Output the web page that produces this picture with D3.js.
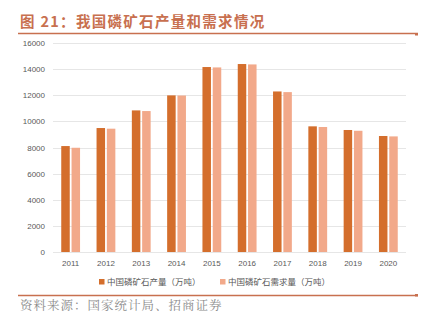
<!DOCTYPE html>
<html><head><meta charset="utf-8">
<script src="https://cdn.jsdelivr.net/npm/d3@7"></script>
<style>body{margin:0;background:#fff}svg{display:block}</style>
</head><body>
<script>
const years = ["2011","2012","2013","2014","2015","2016","2017","2018","2019","2020"];
const production = [8110, 9490, 10840, 11990, 14160, 14390, 12290, 9620, 9340, 8880];
const demand = [7980, 9440, 10790, 11980, 14130, 14360, 12240, 9570, 9280, 8850];
const seriesNames = ["中国磷矿石产量（万吨）", "中国磷矿石需求量（万吨）"];
const yTicks = [0,2000,4000,6000,8000,10000,12000,14000,16000];
const titleText = "图 21：我国磷矿石产量和需求情况";
const sourceText = "资料来源：国家统计局、招商证券";

const W=441,H=324;
const svg=d3.select("body").append("svg").attr("width",W).attr("height",H);
const cProd="#d46e2c", cDem="#f2a98a", accent="#c8704f";

svg.append("text").attr("x",20).attr("y",27).attr("fill",accent)
  .attr("font-family","'Noto Sans CJK SC'").attr("font-weight","bold").attr("font-size",14.5)
  .attr("letter-spacing",1.3)
  .text(titleText);
svg.append("line").attr("x1",18).attr("x2",418).attr("y1",33.5).attr("y2",33.5).attr("stroke",accent).attr("stroke-width",1.5);
svg.append("rect").attr("x",415).attr("y",33).attr("width",3).attr("height",2.5).attr("fill",accent);

const x=d3.scaleBand().domain(years).range([53,406]);
const y=d3.scaleLinear().domain([0,16000]).range([252,43]);

const g=svg.append("g");
g.selectAll(".grid").data(yTicks).enter().append("line")
  .attr("x1",53).attr("x2",406).attr("y1",d=>Math.round(y(d))+0.5).attr("y2",d=>Math.round(y(d))+0.5)
  .attr("stroke","#e6e6e6").attr("stroke-width",1);

const yAxis=d3.axisLeft(y).tickValues(yTicks).tickFormat(d3.format("d")).tickSize(0).tickPadding(8);
const ya=svg.append("g").attr("transform","translate(53,0)").call(yAxis);
ya.select(".domain").remove();
ya.selectAll("text").attr("fill","#595959").attr("font-family","'Liberation Sans',Arial").attr("font-size",8);

const bw=8.5, gap=1.8;
const step=x.bandwidth();
g.selectAll(".p").data(production).enter().append("rect")
  .attr("x",(d,i)=>x(years[i])+step/2-gap/2-bw).attr("width",bw)
  .attr("y",d=>y(d)).attr("height",d=>y(0)-y(d)).attr("fill",cProd);
g.selectAll(".d").data(demand).enter().append("rect")
  .attr("x",(d,i)=>x(years[i])+step/2+gap/2).attr("width",bw)
  .attr("y",d=>y(d)).attr("height",d=>y(0)-y(d)).attr("fill",cDem);

const xAxis=d3.axisBottom(x).tickSize(0).tickPadding(8);
const xa=svg.append("g").attr("transform","translate(0,252)").call(xAxis);
xa.select(".domain").remove();
xa.selectAll("text").attr("fill","#595959").attr("font-family","'Liberation Sans',Arial").attr("font-size",8);

const leg=[{x:99,c:cProd,t:seriesNames[0]},{x:220,c:cDem,t:seriesNames[1]}];
leg.forEach(l=>{
  svg.append("rect").attr("x",l.x).attr("y",279).attr("width",5.5).attr("height",5.5).attr("fill",l.c);
  svg.append("text").attr("x",l.x+8).attr("y",285).attr("fill","#595959")
    .attr("font-family","'Noto Sans CJK SC'").attr("font-size",8.5).text(l.t);
});

svg.append("line").attr("x1",18).attr("x2",418).attr("y1",295.5).attr("y2",295.5).attr("stroke",accent).attr("stroke-width",1.5);
svg.append("rect").attr("x",415).attr("y",294).attr("width",3).attr("height",2.5).attr("fill",accent);

svg.append("text").attr("x",20).attr("y",310).attr("fill","#8c8c8c")
  .attr("font-family","'Noto Serif CJK SC','Noto Sans CJK SC'").attr("font-size",12.5)
  .attr("letter-spacing",1).text(sourceText);
</script>
</body></html>
